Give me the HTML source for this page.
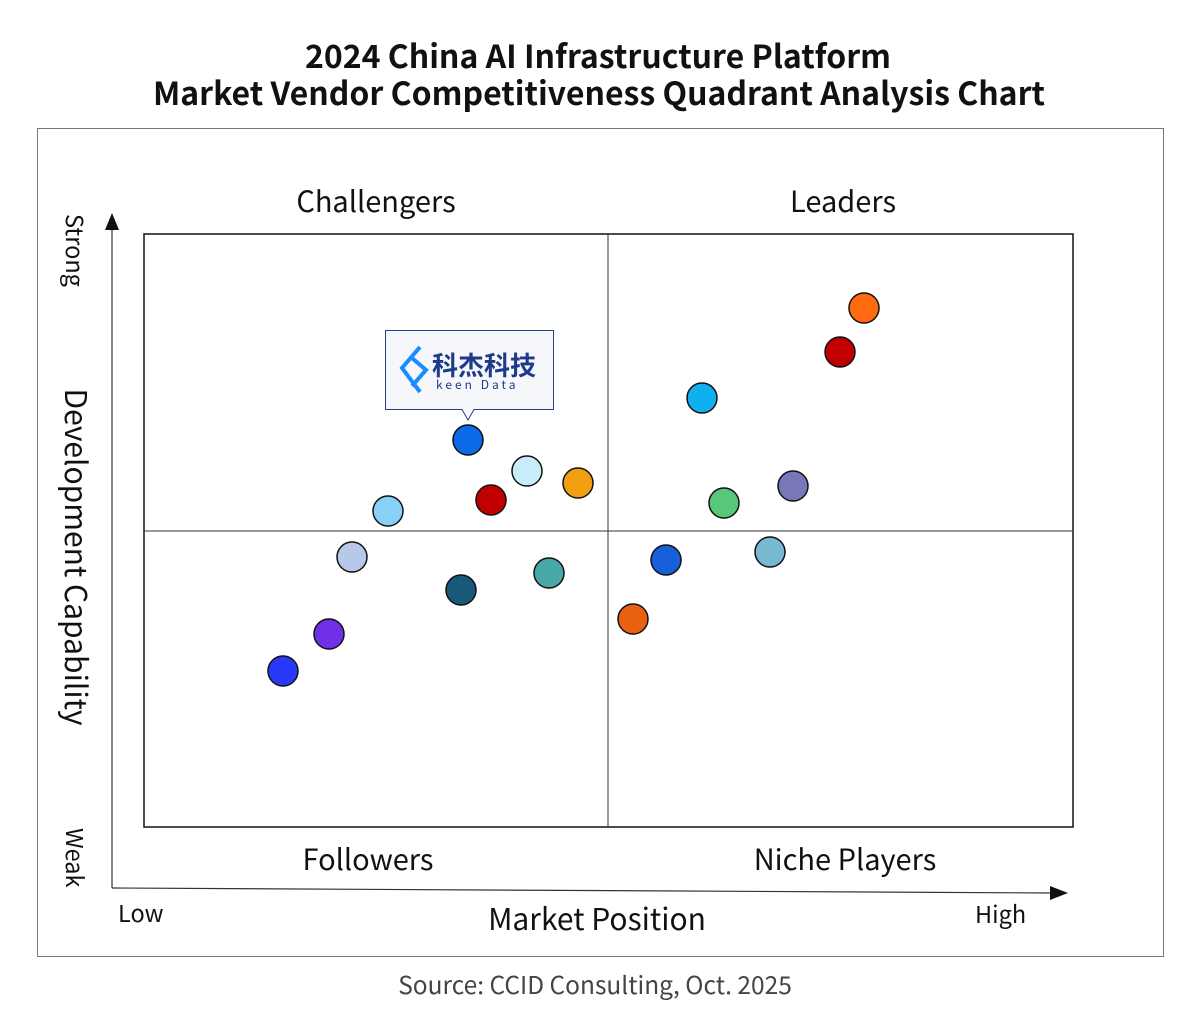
<!DOCTYPE html><html><head><meta charset="utf-8"><style>body{margin:0;background:#fff}svg{display:block}text{font-family:"Noto Sans CJK SC","Liberation Sans",sans-serif}</style></head><body>
<svg width="1200" height="1024" viewBox="0 0 1200 1024">
<text x="598" y="68" text-anchor="middle" font-size="32" font-weight="bold" fill="#111">2024 China AI Infrastructure Platform</text>
<text x="599" y="105" text-anchor="middle" font-size="32" font-weight="bold" fill="#111">Market Vendor Competitiveness Quadrant Analysis Chart</text>
<rect x="37.5" y="128.5" width="1126" height="828" fill="none" stroke="#777" stroke-width="1"/>
<rect x="144" y="234" width="929" height="593" fill="none" stroke="#111" stroke-width="1.5"/>
<line x1="608" y1="234" x2="608" y2="827" stroke="#333"/>
<line x1="144" y1="531" x2="1073" y2="531" stroke="#333"/>
<line x1="112" y1="888" x2="112" y2="226" stroke="#333" stroke-width="1.2"/>
<polygon points="112,213 105,230 119,230" fill="#111"/>
<line x1="112" y1="888" x2="1054" y2="893" stroke="#333" stroke-width="1.2"/>
<polygon points="1068,893 1050,886 1050,900" fill="#111"/>
<g font-size="29" fill="#111" text-anchor="middle">
<text x="376" y="212">Challengers</text><text x="843" y="212">Leaders</text>
<text x="368" y="870">Followers</text><text x="845" y="870">Niche Players</text>
<text x="597" y="930" font-size="30">Market Position</text>
<text transform="translate(65,557) rotate(90)" font-size="30">Development Capability</text>
</g>
<g font-size="23.5" fill="#111">
<text x="118" y="922">Low</text><text x="975" y="923">High</text>
<text transform="translate(66,214) rotate(90)">Strong</text>
<text transform="translate(66,828) rotate(90)">Weak</text>
</g>
<text x="595" y="994" text-anchor="middle" font-size="24.5" fill="#444">Source: CCID Consulting, Oct. 2025</text>
<path d="M385.5,330.5 H553.5 V409.5 H474 L468,420 L462,409.5 H385.5 Z" fill="#f5f7fa" stroke="#2a3f8a" stroke-width="1"/>
<path d="M420,347 L402,368 L420,392 M412,358 L426,370 L412,386" fill="none" stroke="#1a8cff" stroke-width="4"/>
<text x="432" y="375" font-size="26" font-weight="bold" fill="#1e3a8a">科杰科技</text>
<text x="436" y="389" font-size="12" fill="#1e3a8a" letter-spacing="3">keen Data</text>
<g stroke="#111" stroke-width="1.5">
<circle cx="864" cy="308" r="15" fill="#ff6a10"/>
<circle cx="840" cy="352" r="15" fill="#c00000"/>
<circle cx="702" cy="398" r="15" fill="#10b0f0"/>
<circle cx="468" cy="440" r="15" fill="#0a6ae8"/>
<circle cx="527" cy="471" r="15" fill="#c8ecfa"/>
<circle cx="578" cy="483" r="15" fill="#f0a010"/>
<circle cx="491" cy="500" r="15" fill="#c00000"/>
<circle cx="388" cy="511" r="15" fill="#88d0f8"/>
<circle cx="793" cy="486" r="15" fill="#7878b8"/>
<circle cx="724" cy="503" r="15" fill="#58c878"/>
<circle cx="352" cy="557" r="15" fill="#b8c8e8"/>
<circle cx="666" cy="560" r="15" fill="#1860d8"/>
<circle cx="770" cy="552" r="15" fill="#78b8d0"/>
<circle cx="549" cy="573" r="15" fill="#48a8a8"/>
<circle cx="461" cy="590" r="15" fill="#185878"/>
<circle cx="633" cy="619" r="15" fill="#e86010"/>
<circle cx="329" cy="634" r="15" fill="#7030e8"/>
<circle cx="283" cy="671" r="15" fill="#2838f8"/>
</g>
</svg></body></html>
